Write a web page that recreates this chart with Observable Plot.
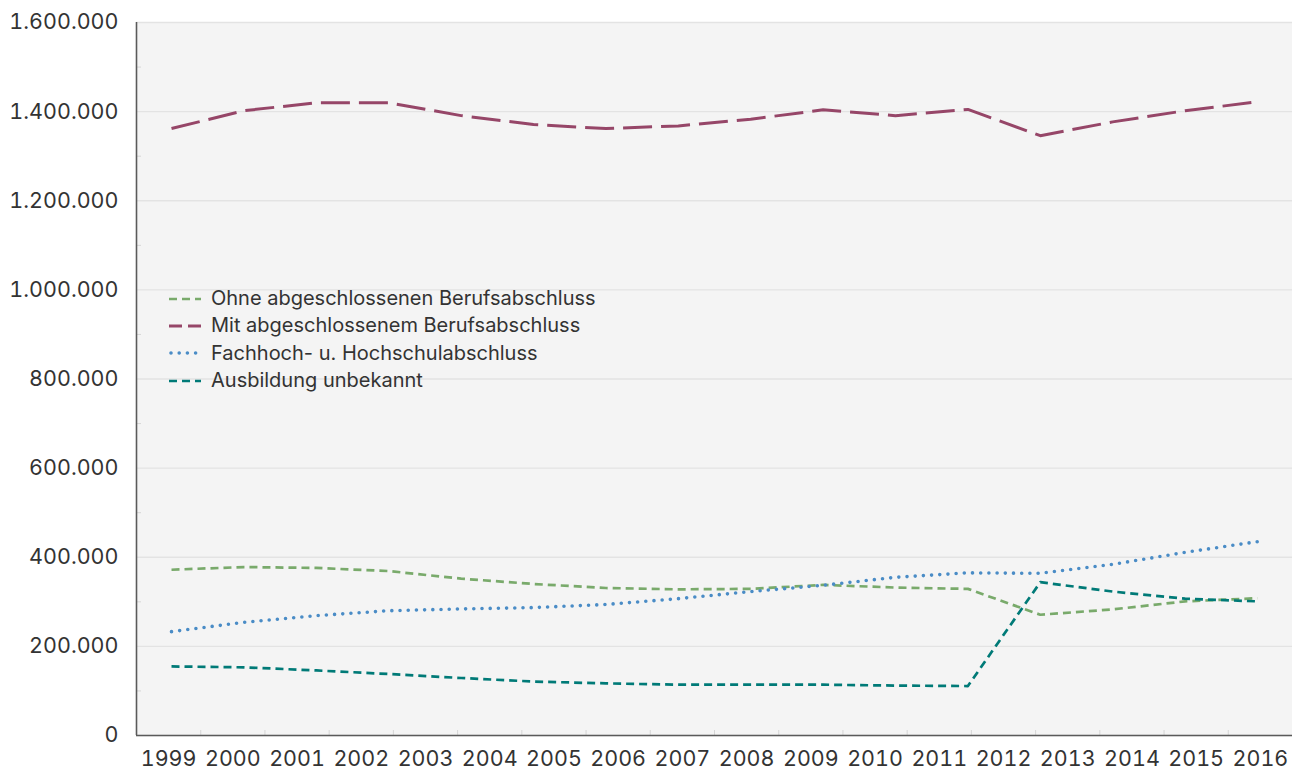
<!DOCTYPE html>
<html>
<head>
<meta charset="utf-8">
<script src="https://cdn.jsdelivr.net/npm/d3@7"></script>
<script src="https://cdn.jsdelivr.net/npm/@observablehq/plot@0.6"></script>
<style>
  html, body { margin: 0; padding: 0; background: #ffffff; }
  #wrap { position: relative; width: 1292px; height: 771px; font-family: Inter, Lato, sans-serif; }
  #legend { position: absolute; left: 169px; top: 285px; font-size: 20px; color: #333; line-height: 27.3px; }
  #legend div { display: flex; align-items: center; white-space: nowrap; }
  #legend svg { margin-right: 10px; }
</style>
</head>
<body>
<div id="wrap"><div id="legend"></div></div>
<script>
// ---- data ----
const yearLabels = ["1999","2000","2001","2002","2003","2004","2005","2006","2007","2008","2009","2010","2011","2012","2013","2014","2015","2016"];
const pointIndex = [0,1,2,3,4,5,6,7,8,9,10,11,12,13,14,15];
const ohne   = [372000, 378000, 376000, 369000, 352000, 340000, 331000, 328000, 329000, 338000, 332000, 329000, 271000, 283000, 301000, 308000];
const mit    = [1362000, 1402000, 1420000, 1420000, 1391000, 1371000, 1362000, 1368000, 1383000, 1404000, 1391000, 1405000, 1346000, 1377000, 1402000, 1422000];
const fach   = [233000, 254000, 269000, 280000, 284000, 287000, 294000, 307000, 323000, 337000, 355000, 365000, 364000, 384000, 411000, 435000];
const unbek  = [155000, 153000, 146000, 138000, 129000, 121000, 117000, 114000, 114000, 114000, 112000, 111000, 344000, 323000, 307000, 301000];
const seriesNames = ["Ohne abgeschlossenen Berufsabschluss", "Mit abgeschlossenem Berufsabschluss", "Fachhoch- u. Hochschulabschluss", "Ausbildung unbekannt"];
const yTicks = [0, 200000, 400000, 600000, 800000, 1000000, 1200000, 1400000, 1600000];
const yMinor = [100000, 300000, 500000, 700000, 900000, 1100000, 1300000, 1500000];

// ---- styles ----
const styles = [
  {stroke: "#79aa6b", strokeWidth: 2.7, dash: "8 5", cap: "butt"},
  {stroke: "#964668", strokeWidth: 3, dash: "29 9", cap: "butt"},
  {stroke: "#4a8cc6", strokeWidth: 3.6, dash: "0 8.2", cap: "round"},
  {stroke: "#007a77", strokeWidth: 2.7, dash: "8 5", cap: "butt"}
];
const allSeries = [ohne, mit, fach, unbek];

const deFormat = d3.formatLocale({decimal: ",", thousands: ".", grouping: [3], currency: ["", " €"]}).format(",d");

const xDomain = [-0.4835, 15.4835];
const bandW = (xDomain[1] - xDomain[0]) / yearLabels.length;
const yearPos = yearLabels.map((_, j) => xDomain[0] + (j + 0.5) * bandW);
const bounds = yearLabels.slice(1).map((_, j) => xDomain[0] + (j + 1) * bandW);

const table = allSeries.map(vals => pointIndex.map(i => ({x: i, y: vals[i]})));

const marks = [
  Plot.frame({fill: "#f4f4f4", stroke: null}),
  Plot.gridY({ticks: yTicks, stroke: "#e3e3e3", strokeOpacity: 1, strokeWidth: 1.3}),
  Plot.axisY({ticks: yMinor, tickSize: -5, tickFormat: () => "", stroke: "#d6d6d6", label: null}),
  Plot.axisX({ticks: bounds, tickSize: -5, tickFormat: () => "", stroke: "#d6d6d6", label: null}),
  Plot.axisY({ticks: yTicks, tickSize: 0, tickPadding: 18, tickFormat: deFormat, fontSize: 21.5, color: "#333", label: null}),
  Plot.axisX({ticks: yearPos, tickSize: 0, tickPadding: 15, tickFormat: (d) => yearLabels[yearPos.indexOf(d)], fontSize: 21.5, color: "#333", label: null}),
  ...table.map((data, k) => Plot.line(data, {
    x: "x", y: "y",
    stroke: styles[k].stroke, strokeWidth: styles[k].strokeWidth,
    strokeDasharray: styles[k].dash, strokeLinecap: styles[k].cap
  })),
  Plot.ruleY([0], {stroke: "#5a5a5a", strokeWidth: 1.6}),
  Plot.ruleX([xDomain[0]], {stroke: "#5a5a5a", strokeWidth: 1.6})
];

const chart = Plot.plot({
  width: 1292,
  height: 771,
  marginLeft: 136,
  marginRight: 0,
  marginTop: 22,
  marginBottom: 36,
  x: {domain: xDomain, axis: null},
  y: {domain: [0, 1600000], axis: null},
  style: {fontFamily: "Inter, Lato, sans-serif", background: "transparent", color: "#333"},
  marks
});
document.getElementById("wrap").prepend(chart);

// legend
const legend = document.getElementById("legend");
seriesNames.forEach((name, k) => {
  const row = document.createElement("div");
  const s = styles[k];
  row.innerHTML = `<svg width="32" height="10"><line x1="${s.cap === 'round' ? 2 : 0}" x2="32" y1="5" y2="5" stroke="${s.stroke}" stroke-width="${s.strokeWidth}" stroke-dasharray="${k === 1 ? '13 6' : s.dash}" stroke-linecap="${s.cap}"/></svg><span>${name}</span>`;
  legend.appendChild(row);
});
</script>
</body>
</html>
